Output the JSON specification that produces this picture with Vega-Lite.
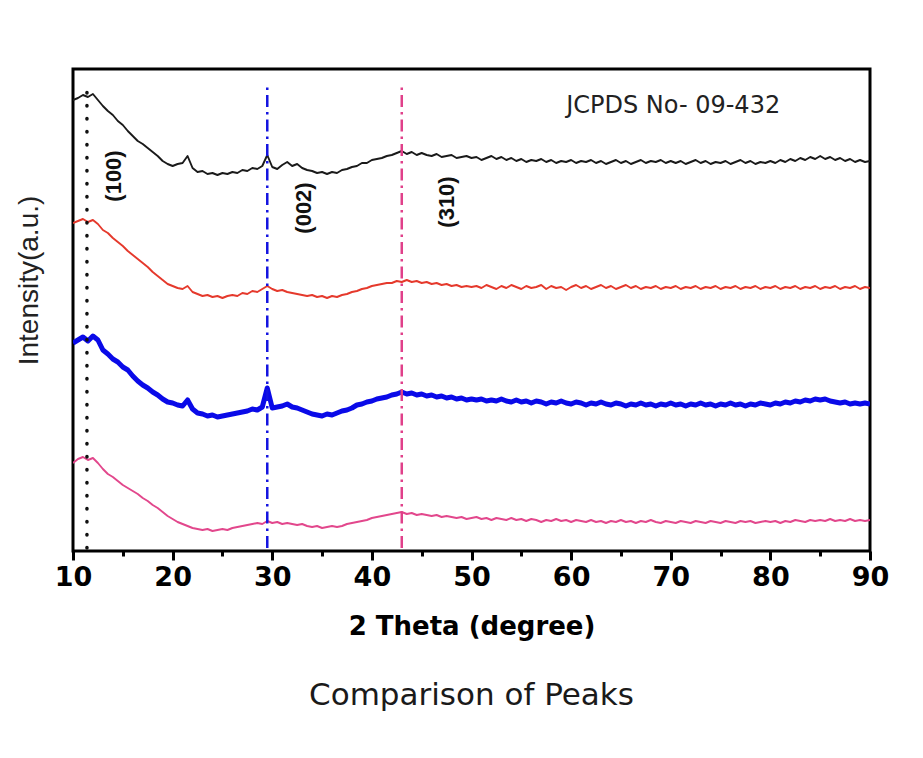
{
"$schema": "https://vega.github.io/schema/vega-lite/v6.json",
"autosize": "none",
"width": 797,
"height": 482,
"padding": {"left": 73, "top": 69, "right": 53, "bottom": 207},
"background": "white",
"config": {"view": {"stroke": "black", "strokeWidth": 3}, "font": "DejaVu Sans"},
"title": {"text": "Comparison of Peaks", "orient": "bottom", "anchor": "middle", "fontSize": 31, "fontWeight": "normal", "font": "DejaVu Sans", "color": "#1a1a1a", "offset": 42},
"datasets": {
"xrd": [
{"x":10,"a":451,"b":328,"c":208,"d":88},
{"x":10.5,"a":453,"b":330,"c":211,"d":92},
{"x":11,"a":456,"b":332,"c":214,"d":94},
{"x":11.5,"a":454,"b":329,"c":210,"d":91},
{"x":12,"a":457,"b":331,"c":215,"d":93},
{"x":12.5,"a":451,"b":327,"c":211,"d":88},
{"x":13,"a":445,"b":321,"c":201,"d":82},
{"x":13.5,"a":440,"b":318,"c":197,"d":77},
{"x":14,"a":436,"b":313,"c":192,"d":74},
{"x":14.5,"a":430,"b":309,"c":189,"d":70},
{"x":15,"a":426,"b":305,"c":184,"d":66},
{"x":15.5,"a":420,"b":300,"c":181,"d":63},
{"x":16,"a":415,"b":296,"c":175,"d":60},
{"x":16.5,"a":410,"b":292,"c":170,"d":57},
{"x":17,"a":407,"b":288,"c":166,"d":53},
{"x":17.5,"a":403,"b":284,"c":163,"d":50},
{"x":18,"a":399,"b":279,"c":159,"d":46},
{"x":18.5,"a":395,"b":275,"c":156,"d":43},
{"x":19,"a":390,"b":271,"c":152,"d":39},
{"x":19.5,"a":387,"b":267,"c":149,"d":35},
{"x":20,"a":385,"b":265,"c":148,"d":32},
{"x":20.5,"a":387,"b":263,"c":146,"d":29},
{"x":21,"a":388,"b":262,"c":145,"d":27},
{"x":21.5,"a":395,"b":265,"c":151,"d":25},
{"x":22,"a":383,"b":259,"c":142,"d":23},
{"x":22.5,"a":379,"b":257,"c":138,"d":22},
{"x":23,"a":380,"b":255,"c":137,"d":21},
{"x":23.5,"a":377,"b":256,"c":135,"d":22},
{"x":24,"a":378,"b":254,"c":136,"d":20},
{"x":24.5,"a":376,"b":255,"c":134,"d":21},
{"x":25,"a":378,"b":253,"c":135,"d":22},
{"x":25.5,"a":377,"b":255,"c":136,"d":21},
{"x":26,"a":379,"b":256,"c":137,"d":23},
{"x":26.5,"a":378,"b":255,"c":138,"d":24},
{"x":27,"a":381,"b":258,"c":139,"d":25},
{"x":27.5,"a":380,"b":257,"c":140,"d":26},
{"x":28,"a":383,"b":260,"c":142,"d":27},
{"x":28.5,"a":382,"b":259,"c":141,"d":28},
{"x":29,"a":385,"b":262,"c":144,"d":27},
{"x":29.5,"a":396,"b":265,"c":163,"d":30},
{"x":30,"a":384,"b":262,"c":143,"d":28},
{"x":30.5,"a":382,"b":260,"c":144,"d":29},
{"x":31,"a":386,"b":261,"c":145,"d":27},
{"x":31.5,"a":389,"b":259,"c":147,"d":28},
{"x":32,"a":385,"b":258,"c":144,"d":27},
{"x":32.5,"a":387,"b":257,"c":143,"d":26},
{"x":33,"a":383,"b":256,"c":141,"d":27},
{"x":33.5,"a":381,"b":255,"c":139,"d":25},
{"x":34,"a":380,"b":256,"c":137,"d":24},
{"x":34.5,"a":378,"b":254,"c":136,"d":25},
{"x":35,"a":379,"b":255,"c":135,"d":23},
{"x":35.5,"a":377,"b":253,"c":137,"d":24},
{"x":36,"a":379,"b":255,"c":136,"d":25},
{"x":36.5,"a":378,"b":254,"c":138,"d":24},
{"x":37,"a":381,"b":256,"c":140,"d":25},
{"x":37.5,"a":382,"b":257,"c":141,"d":27},
{"x":38,"a":384,"b":259,"c":143,"d":28},
{"x":38.5,"a":385,"b":260,"c":146,"d":29},
{"x":39,"a":388,"b":262,"c":147,"d":30},
{"x":39.5,"a":388,"b":263,"c":149,"d":31},
{"x":40,"a":391,"b":265,"c":150,"d":33},
{"x":40.5,"a":392,"b":266,"c":152,"d":34},
{"x":41,"a":393,"b":267,"c":153,"d":35},
{"x":41.5,"a":395,"b":268,"c":154,"d":36},
{"x":42,"a":396,"b":268,"c":156,"d":37},
{"x":42.5,"a":398,"b":270,"c":157,"d":38},
{"x":43,"a":400,"b":269,"c":159,"d":39},
{"x":43.5,"a":397,"b":271,"c":157,"d":37},
{"x":44,"a":399,"b":269,"c":158,"d":38},
{"x":44.5,"a":396,"b":270,"c":156,"d":36},
{"x":45,"a":398,"b":268,"c":157,"d":37},
{"x":45.5,"a":396,"b":269,"c":155,"d":36},
{"x":46,"a":395,"b":267,"c":156,"d":35},
{"x":46.5,"a":397,"b":268,"c":154,"d":36},
{"x":47,"a":394,"b":266,"c":155,"d":34},
{"x":47.5,"a":395,"b":267,"c":153,"d":35},
{"x":48,"a":396,"b":265,"c":154,"d":34},
{"x":48.5,"a":393,"b":266,"c":152,"d":33},
{"x":49,"a":394,"b":264,"c":153,"d":34},
{"x":49.5,"a":395,"b":265,"c":151,"d":32},
{"x":50,"a":393,"b":264,"c":152,"d":33},
{"x":50.5,"a":394,"b":265,"c":151,"d":34},
{"x":51,"a":391,"b":263,"c":152,"d":32},
{"x":51.5,"a":393,"b":266,"c":150,"d":33},
{"x":52,"a":395,"b":264,"c":151,"d":31},
{"x":52.5,"a":392,"b":262,"c":150,"d":33},
{"x":53,"a":394,"b":265,"c":152,"d":32},
{"x":53.5,"a":391,"b":263,"c":150,"d":31},
{"x":54,"a":393,"b":266,"c":149,"d":33},
{"x":54.5,"a":390,"b":264,"c":151,"d":31},
{"x":55,"a":392,"b":262,"c":149,"d":32},
{"x":55.5,"a":389,"b":265,"c":150,"d":30},
{"x":56,"a":391,"b":263,"c":148,"d":32},
{"x":56.5,"a":390,"b":264,"c":150,"d":31},
{"x":57,"a":392,"b":266,"c":149,"d":29},
{"x":57.5,"a":389,"b":262,"c":147,"d":31},
{"x":58,"a":391,"b":265,"c":149,"d":30},
{"x":58.5,"a":388,"b":263,"c":148,"d":32},
{"x":59,"a":390,"b":264,"c":150,"d":30},
{"x":59.5,"a":389,"b":261,"c":148,"d":31},
{"x":60,"a":391,"b":264,"c":147,"d":29},
{"x":60.5,"a":388,"b":266,"c":149,"d":31},
{"x":61,"a":390,"b":263,"c":148,"d":30},
{"x":61.5,"a":389,"b":265,"c":146,"d":29},
{"x":62,"a":391,"b":262,"c":148,"d":31},
{"x":62.5,"a":388,"b":264,"c":147,"d":29},
{"x":63,"a":390,"b":266,"c":149,"d":30},
{"x":63.5,"a":387,"b":263,"c":147,"d":28},
{"x":64,"a":389,"b":265,"c":146,"d":30},
{"x":64.5,"a":391,"b":262,"c":148,"d":29},
{"x":65,"a":388,"b":264,"c":147,"d":31},
{"x":65.5,"a":390,"b":266,"c":145,"d":29},
{"x":66,"a":387,"b":263,"c":147,"d":30},
{"x":66.5,"a":389,"b":265,"c":146,"d":28},
{"x":67,"a":391,"b":262,"c":148,"d":30},
{"x":67.5,"a":388,"b":264,"c":146,"d":29},
{"x":68,"a":390,"b":263,"c":147,"d":31},
{"x":68.5,"a":389,"b":265,"c":145,"d":29},
{"x":69,"a":391,"b":262,"c":147,"d":28},
{"x":69.5,"a":388,"b":264,"c":146,"d":30},
{"x":70,"a":390,"b":263,"c":148,"d":29},
{"x":70.5,"a":388,"b":265,"c":146,"d":28},
{"x":71,"a":390,"b":262,"c":147,"d":30},
{"x":71.5,"a":387,"b":264,"c":145,"d":29},
{"x":72,"a":389,"b":263,"c":147,"d":28},
{"x":72.5,"a":391,"b":265,"c":146,"d":30},
{"x":73,"a":388,"b":262,"c":148,"d":29},
{"x":73.5,"a":390,"b":264,"c":146,"d":28},
{"x":74,"a":387,"b":263,"c":147,"d":30},
{"x":74.5,"a":389,"b":265,"c":145,"d":29},
{"x":75,"a":388,"b":262,"c":147,"d":28},
{"x":75.5,"a":390,"b":264,"c":146,"d":30},
{"x":76,"a":387,"b":263,"c":148,"d":29},
{"x":76.5,"a":389,"b":265,"c":146,"d":28},
{"x":77,"a":391,"b":262,"c":147,"d":30},
{"x":77.5,"a":388,"b":264,"c":145,"d":29},
{"x":78,"a":390,"b":263,"c":147,"d":30},
{"x":78.5,"a":387,"b":265,"c":146,"d":28},
{"x":79,"a":389,"b":262,"c":148,"d":29},
{"x":79.5,"a":388,"b":264,"c":147,"d":30},
{"x":80,"a":390,"b":263,"c":146,"d":29},
{"x":80.5,"a":388,"b":265,"c":148,"d":30},
{"x":81,"a":391,"b":262,"c":147,"d":28},
{"x":81.5,"a":389,"b":264,"c":149,"d":30},
{"x":82,"a":392,"b":263,"c":148,"d":29},
{"x":82.5,"a":390,"b":265,"c":150,"d":31},
{"x":83,"a":393,"b":262,"c":149,"d":30},
{"x":83.5,"a":391,"b":264,"c":151,"d":29},
{"x":84,"a":394,"b":263,"c":150,"d":31},
{"x":84.5,"a":392,"b":265,"c":152,"d":30},
{"x":85,"a":395,"b":262,"c":151,"d":31},
{"x":85.5,"a":392,"b":264,"c":152,"d":30},
{"x":86,"a":394,"b":263,"c":150,"d":32},
{"x":86.5,"a":391,"b":265,"c":149,"d":30},
{"x":87,"a":393,"b":262,"c":148,"d":31},
{"x":87.5,"a":390,"b":264,"c":149,"d":30},
{"x":88,"a":392,"b":263,"c":147,"d":32},
{"x":88.5,"a":389,"b":265,"c":148,"d":30},
{"x":89,"a":391,"b":262,"c":147,"d":31},
{"x":89.5,"a":389,"b":264,"c":148,"d":30},
{"x":90,"a":390,"b":263,"c":147,"d":31}
],
"refs": [
{"x": 11.4, "y1": 3, "y2": 466, "k": "dot"},
{"x": 29.5, "y1": 3, "y2": 468, "k": "blue"},
{"x": 43.0, "y1": 3, "y2": 468, "k": "pink"}
],
"notes": [
{"x": 14.07, "y": 375, "t": "(100)", "k": "hkl"},
{"x": 33.19, "y": 343, "t": "(002)", "k": "hkl"},
{"x": 47.54, "y": 349, "t": "(310)", "k": "hkl"},
{"x": 59.5, "y": 445, "t": "JCPDS No- 09-432", "k": "card"}
]
},
"layer": [
{
"data": {"name": "xrd"},
"transform": [{"fold": ["a", "b", "d"], "as": ["s", "v"]}],
"mark": {"type": "line", "strokeJoin": "round", "strokeWidth": 1.9, "clip": true},
"encoding": {
"x": {"field": "x", "type": "quantitative", "scale": {"domain": [10, 90], "nice": false, "zero": false},
"axis": {"orient": "bottom", "values": [10, 20, 30, 40, 50, 60, 70, 80, 90], "grid": false, "domain": false, "tickSize": 9, "tickWidth": 3, "tickColor": "black", "labelFont": "DejaVu Sans", "labelFontWeight": "bold", "labelFontSize": 27, "labelColor": "black", "labelPadding": 4, "labelFlush": false, "labelOverlap": false, "title": "2 Theta (degree)", "titleFont": "DejaVu Sans", "titleFontSize": 26, "titleFontWeight": "bold", "titleColor": "black", "titlePadding": 23}},
"y": {"field": "v", "type": "quantitative", "scale": {"domain": [0, 482], "nice": false, "zero": false},
"axis": {"domain": false, "ticks": false, "labels": false, "grid": false, "title": "Intensity(a.u.)", "titleFont": "Liberation Sans", "titleFontSize": 28, "titleFontWeight": "normal", "titleColor": "#222", "titlePadding": 30, "titleY": 211}},
"color": {"field": "s", "type": "nominal", "scale": {"domain": ["a", "b", "d"], "range": ["#1a1a1a", "#e5392c", "#e2478c"]}, "legend": null}
}
},
{
"data": {"name": "xrd"},
"mark": {"type": "line", "strokeJoin": "round", "strokeWidth": 5, "color": "#0a0ae8", "clip": true},
"encoding": {
"x": {"field": "x", "type": "quantitative", "axis": null},
"y": {"field": "c", "type": "quantitative", "axis": null}
}
},
{
"data": {"name": "refs"},
"transform": [{"filter": "datum.k === 'dot'"}],
"mark": {"type": "rule", "color": "#111", "strokeWidth": 3.5, "strokeCap": "round", "strokeDash": [0.5, 12.5]},
"encoding": {
"x": {"field": "x", "type": "quantitative", "axis": {"orient": "bottom", "values": [15, 25, 35, 45, 55, 65, 75, 85], "labels": false, "domain": false, "grid": false, "tickSize": 5, "tickWidth": 3, "tickColor": "black", "title": null}},
"y": {"field": "y1", "type": "quantitative", "axis": null},
"y2": {"field": "y2"}
}
},
{
"data": {"name": "refs"},
"transform": [{"filter": "datum.k === 'blue'"}],
"mark": {"type": "rule", "color": "#1414e0", "strokeWidth": 2.5, "strokeDash": [12, 5, 2.5, 5]},
"encoding": {
"x": {"field": "x", "type": "quantitative", "axis": null},
"y": {"field": "y1", "type": "quantitative", "axis": null},
"y2": {"field": "y2"}
}
},
{
"data": {"name": "refs"},
"transform": [{"filter": "datum.k === 'pink'"}],
"mark": {"type": "rule", "color": "#e0408a", "strokeWidth": 2.5, "strokeDash": [12, 5, 2.5, 5]},
"encoding": {
"x": {"field": "x", "type": "quantitative", "axis": null},
"y": {"field": "y1", "type": "quantitative", "axis": null},
"y2": {"field": "y2"}
}
},
{
"data": {"name": "notes"},
"transform": [{"filter": "datum.k === 'hkl'"}],
"mark": {"type": "text", "angle": 270, "align": "center", "baseline": "middle", "font": "Liberation Sans", "fontWeight": "bold", "fontSize": 22, "color": "#111"},
"encoding": {
"x": {"field": "x", "type": "quantitative", "axis": null},
"y": {"field": "y", "type": "quantitative", "axis": null},
"text": {"field": "t"}
}
},
{
"data": {"name": "notes"},
"transform": [{"filter": "datum.k === 'card'"}],
"mark": {"type": "text", "align": "left", "baseline": "middle", "font": "DejaVu Sans", "fontWeight": "normal", "fontSize": 24, "color": "#222"},
"encoding": {
"x": {"field": "x", "type": "quantitative", "axis": null},
"y": {"field": "y", "type": "quantitative", "axis": null},
"text": {"field": "t"}
}
}
],
"resolve": {"axis": {"x": "independent", "y": "independent"}}
}
